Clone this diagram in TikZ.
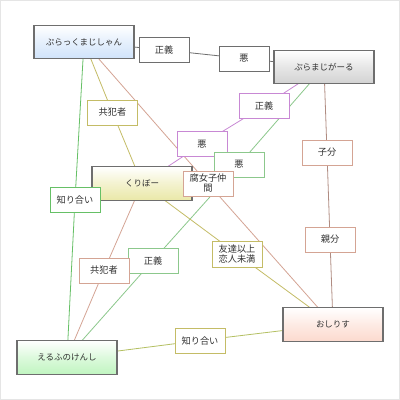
\documentclass[tikz,border=0pt]{standalone}
\usepackage{fontspec}
\setmainfont{Noto Sans CJK JP}
\usetikzlibrary{backgrounds}
\definecolor{gborder}{HTML}{6E6E6E}
\definecolor{cpurple}{HTML}{C888D4}
\definecolor{cgreen}{HTML}{8CC88C}
\definecolor{cgreenb}{HTML}{66C066}
\definecolor{colive}{HTML}{C4BC66}
\definecolor{csalmon}{HTML}{D4A494}
\definecolor{cmix}{HTML}{B08C82}
\definecolor{cyg}{HTML}{B4C062}
\definecolor{fblue}{HTML}{D0E3FA}
\definecolor{fgray}{HTML}{D2D2D2}
\definecolor{fyellow}{HTML}{EAE8A8}
\definecolor{fgreen}{HTML}{C0F5C0}
\definecolor{fpink}{HTML}{FCDACE}
\definecolor{ctext}{HTML}{303030}
\tikzset{
  mainbox/.style={draw=gborder, line width=1.2pt, minimum width=100pt, minimum height=33.5pt,
    inner sep=0pt, outer sep=0pt, text=ctext, font=\fontsize{8.5}{10}\selectfont,
    top color=white, bottom color=#1, middle color=#1!55!white},
  lbl/.style={draw=#1, fill=white, line width=1pt, minimum width=50pt, minimum height=25pt,
    inner sep=0pt, outer sep=0pt, text=ctext, align=center, font=\fontsize{9.2}{10}\selectfont},
  conn/.style={line width=0.8pt, draw=#1}
}
\begin{document}
\begin{tikzpicture}[x=1pt,y=-1pt]
\useasboundingbox (0,0) rectangle (400,400);
% main nodes
\node[mainbox=fblue] (bm) at (84,42) {ぷらっくまじしゃん};
\node[mainbox=fgray] (pg) at (324,67) {ぷらまじがーる};
\node[mainbox=fyellow] (kr) at (142,183.5) {くりぼー};
\node[mainbox=fgreen] (ek) at (67,357.5) {えるふのけんし};
\node[mainbox=fpink] (os) at (333,324.5) {おしりす};
% label nodes
\node[lbl=gborder] (s1) at (164,50) {正義};
\node[lbl=gborder] (a1) at (244,58.5) {悪};
\node[lbl=cpurple] (s2) at (264,106) {正義};
\node[lbl=cpurple] (a2) at (202,144) {悪};
\node[lbl=cgreen] (a3) at (239,164.5) {悪};
\node[lbl=csalmon] (fj) at (208,183.5) {腐女子仲\\間};
\node[lbl=colive] (k1) at (112.5,112.5) {共犯者};
\node[lbl=cgreenb] (c1) at (75,200) {知り合い};
\node[lbl=csalmon] (ko) at (327,152.5) {子分};
\node[lbl=csalmon] (oy) at (330,239.5) {親分};
\node[lbl=colive, minimum height=26pt] (tm) at (237,254) {友達以上\\恋人未満};
\node[lbl=cgreen] (s3) at (153,260.5) {正義};
\node[lbl=csalmon] (k2) at (104,270.5) {共犯者};
\node[lbl=colive] (c2) at (200,340.5) {知り合い};
\begin{pgfonlayer}{background}
\fill[white] (0,0) rectangle (400,400);
\draw[conn=gborder] (bm.center) -- (s1.center) -- (a1.center) -- (pg.center);
\draw[conn=cgreenb] (bm.center) -- (c1.center) -- (ek.center);
\draw[conn=colive] (bm.center) -- (k1.center) -- (kr.center);
\draw[conn=csalmon] (bm.center) -- (fj.center) -- (os.center);
\draw[conn=cpurple] (pg.center) -- (s2.center) -- (a2.center) -- (kr.center);
\draw[conn=cgreen] (pg.center) -- (a3.center) -- (s3.center) -- (ek.center);
\draw[conn=cmix] (pg.center) -- (ko.center) -- (oy.center) -- (os.center);
\draw[conn=csalmon] (kr.center) -- (k2.center) -- (ek.center);
\draw[conn=colive] (kr.center) -- (tm.center) -- (os.center);
\draw[conn=cyg] (ek.center) -- (c2.center) -- (os.center);
\end{pgfonlayer}
\draw[line width=2pt, draw=black!10] (0,0) rectangle (400,400);
\end{tikzpicture}
\end{document}
